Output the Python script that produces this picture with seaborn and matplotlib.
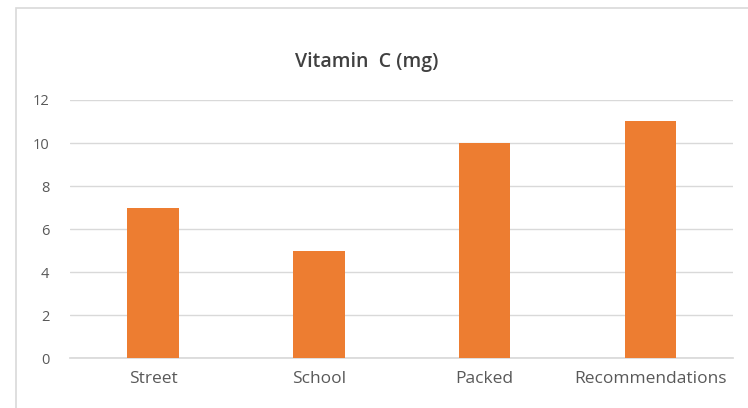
import matplotlib
matplotlib.use("Agg")
import matplotlib.pyplot as plt
import seaborn as sns
import pandas as pd
from matplotlib.patches import Rectangle

# Data
categories = ["Street", "School", "Packed", "Recommendations"]
vitamin_c = [7, 5, 10, 11]
y_ticks = [0, 2, 4, 6, 8, 10, 12]

df = pd.DataFrame({"source": categories, "vitc": vitamin_c})

sns.set_theme(style="white")
plt.rcParams["font.family"] = ["Open Sans", "DejaVu Sans"]

fig = plt.figure(figsize=(7.48, 4.08), dpi=100)
ax = fig.add_axes([0.094, 0.122, 0.886, 0.633])

# chart frame like the spreadsheet one
fig.patches.append(Rectangle((16 / 748, -0.05), 1.0, 1 - 8 / 408 + 0.05,
                             transform=fig.transFigure, fill=False,
                             edgecolor="#D9D9D9", linewidth=1.2))

sns.barplot(data=df, x="source", y="vitc", color="#ED7D31", width=0.31,
            saturation=1, linewidth=0, ax=ax, zorder=3)

ax.set_ylim(0, 12)
ax.set_yticks(y_ticks)
ax.yaxis.grid(True, color="#D9D9D9", linewidth=1)
ax.set_axisbelow(True)
for s in ["top", "right", "left"]:
    ax.spines[s].set_visible(False)
ax.spines["bottom"].set_color("#D9D9D9")
ax.tick_params(axis="y", length=0, pad=15, labelsize=10.5, labelcolor="#595959")
ax.tick_params(axis="x", length=0, pad=9, labelsize=12.5, labelcolor="#595959")
ax.set_xlabel("")
ax.set_ylabel("")

fig.text(0.49, 0.848, "Vitamin  C (mg)", ha="center", va="center",
         fontsize=14, fontweight="semibold", color="#404040")

fig.savefig("out.png", dpi=100)
